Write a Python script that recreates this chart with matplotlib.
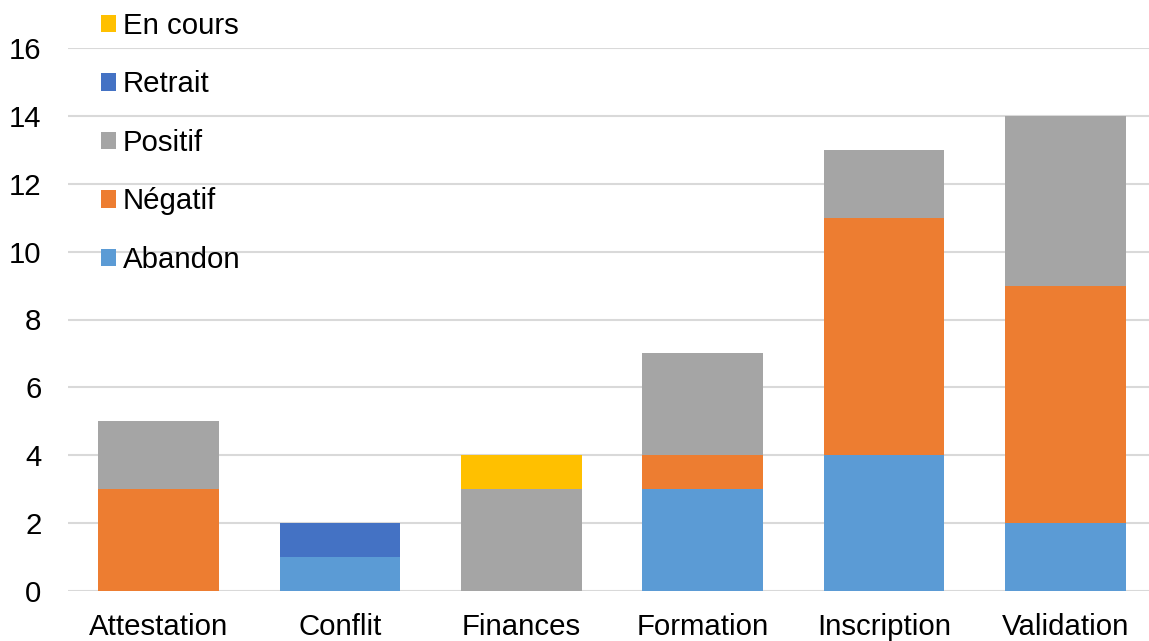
import matplotlib
matplotlib.use("Agg")
import matplotlib.pyplot as plt
from matplotlib.patches import Patch
import numpy as np

plt.rcParams['font.family'] = ['Liberation Sans', 'DejaVu Sans']

categories = ["Attestation", "Conflit", "Finances", "Formation", "Inscription", "Validation"]
abandon = [0, 1, 0, 3, 4, 2]
negatif = [3, 0, 0, 1, 7, 7]
positif = [2, 0, 3, 3, 2, 5]
retrait = [0, 1, 0, 0, 0, 0]
en_cours = [0, 0, 1, 0, 0, 0]

series = [
    ("Abandon", abandon, "#5B9BD5"),
    ("Négatif", negatif, "#ED7D31"),
    ("Positif", positif, "#A5A5A5"),
    ("Retrait", retrait, "#4472C4"),
    ("En cours", en_cours, "#FFC000"),
]

FS = 21.2
W, H = 1149, 641
fig = plt.figure(figsize=(W / 100, H / 100), dpi=100)
ax = fig.add_axes([68 / W, (641 - 591) / H, (1156 - 68) / W, (591 - 48) / H])

x = np.arange(len(categories))
bottom = np.zeros(len(categories))
for name, vals, col in series:
    v = np.array(vals, dtype=float)
    ax.bar(x, v, bottom=bottom, width=0.667, color=col, zorder=2)
    bottom += v

ax.set_xlim(-0.5, len(categories) - 0.5)
ax.set_ylim(0, 16)
ax.set_yticks(range(0, 17, 2))
ax.set_xticks(x)
ax.set_xticklabels(categories)
ax.grid(axis='y', color='#D9D9D9', linewidth=1.5, zorder=0)
for s in ax.spines.values():
    s.set_visible(False)
ax.tick_params(axis='both', length=0, labelsize=FS, colors='black')
ax.tick_params(axis='y', pad=19)
ax.tick_params(axis='x', pad=16)

handles = [Patch(facecolor=col, edgecolor='none', label=name) for name, _, col in reversed(series)]
fig.legend(handles=handles, loc='upper left', bbox_to_anchor=(101 / W, 1 - 12 / H),
           frameon=False, fontsize=FS, handlelength=0.52, handleheight=0.52,
           handletextpad=0.22, labelspacing=1.035, borderpad=0, borderaxespad=0)

fig.savefig("out.png", dpi=100)
